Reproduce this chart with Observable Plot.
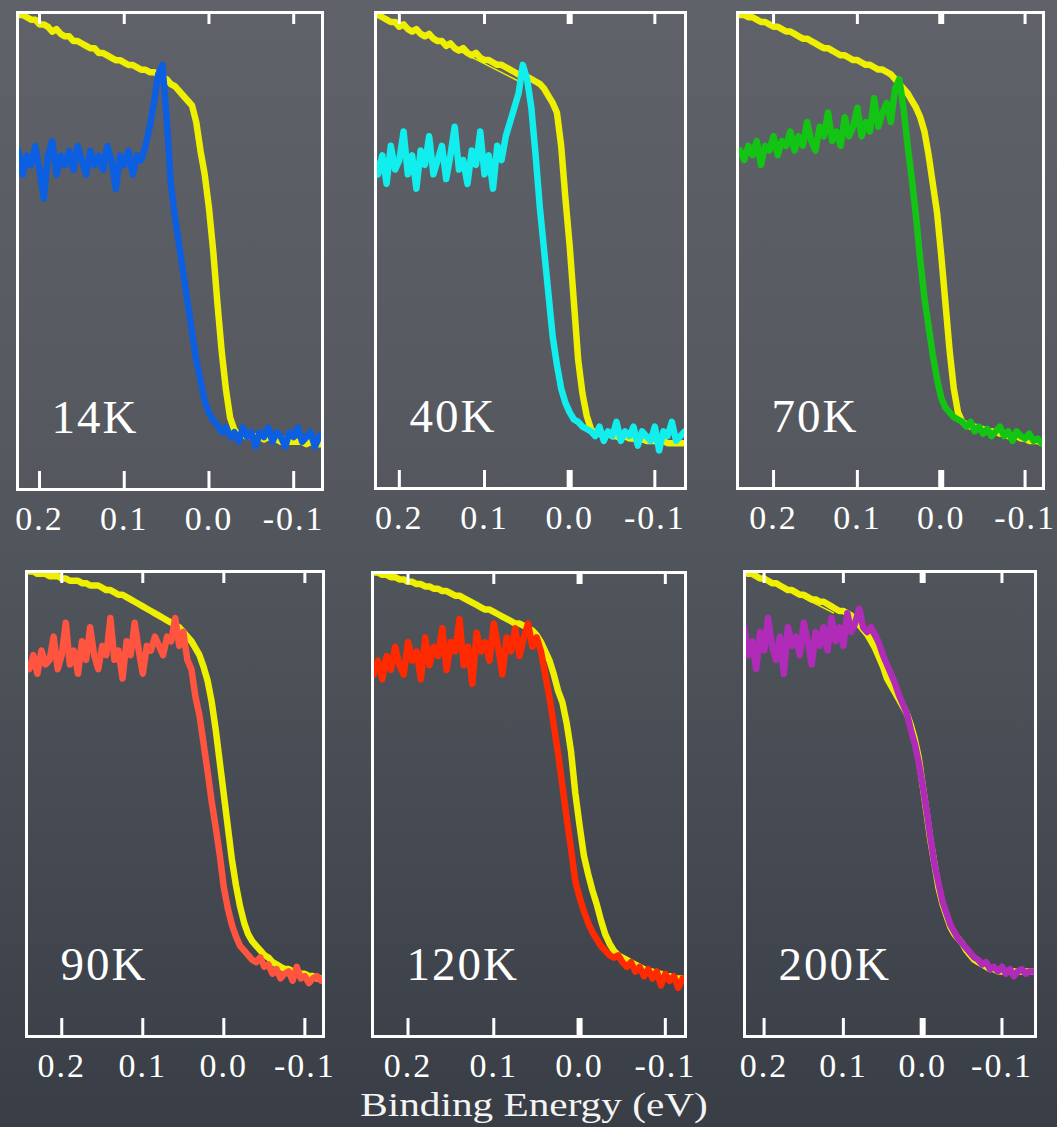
<!DOCTYPE html>
<html>
<head>
<meta charset="utf-8">
<script src="https://cdn.jsdelivr.net/npm/d3@7"></script>
<script src="https://cdn.jsdelivr.net/npm/@observablehq/plot@0.6"></script>
<style>
  html, body { margin: 0; padding: 0; background: #4a4e56; }
  #board {
    position: relative; width: 1057px; height: 1127px; overflow: hidden;
    background: linear-gradient(to bottom, #5f6268 0%, #55595f 40%, #454a52 75%, #383d46 100%);
  }
  .panel { position: absolute; }
  .panel svg { overflow: visible; display: block; max-width: none !important; }
  .panel g[aria-label="x-axis tick label"] text { letter-spacing: 2px; }
  .panel g[aria-label="text"] text { letter-spacing: 2px; }
  #xtitle {
    position: absolute; left: 0; width: 1057px; top: 1089px;
    text-align: center; color: #f4f4f4; font-size: 33px; line-height: 33px;
  }
  #xtitle span { display: inline-block; transform: scaleX(1.25); transform-origin: center; margin-left: 12px; }
</style>
</head>
<body>
<div id="board"><div id="xtitle"><span>Binding Energy (eV)</span></div></div>
<script>
// ---------- DATA ----------
const energy = [
  0.245, 0.24, 0.235, 0.23, 0.225, 0.22, 0.215, 0.21, 0.205, 0.2,
  0.195, 0.19, 0.185, 0.18, 0.175, 0.17, 0.165, 0.16, 0.155, 0.15,
  0.145, 0.14, 0.135, 0.13, 0.125, 0.12, 0.115, 0.11, 0.105, 0.1,
  0.095, 0.09, 0.085, 0.08, 0.075, 0.07, 0.065, 0.06, 0.055, 0.05,
  0.045, 0.04, 0.035, 0.03, 0.025, 0.02, 0.015, 0.01, 0.005, 0,
  -0.005, -0.01, -0.015, -0.02, -0.025, -0.03, -0.035, -0.04, -0.045, -0.05,
  -0.055, -0.06, -0.065, -0.07, -0.075, -0.08, -0.085, -0.09, -0.095, -0.1,
  -0.105, -0.11, -0.115, -0.12, -0.125, -0.13, -0.135, -0.14, -0.145
];

const temperatures = ["14K", "40K", "70K", "90K", "120K", "200K"];

// yellow reference spectra
const ref14 = [
  101, 101, 100.5, 100, 99.5, 99.5, 99, 98.5, 98.5, 97.5,
  97.5, 97, 96, 96.5, 95.5, 95, 95, 94, 94, 93.5,
  93, 92.5, 92.5, 91.5, 91.5, 91, 90.5, 90, 90, 89.5,
  89, 89, 88.5, 88, 88, 87.5, 87.5, 87, 86.5, 86,
  85, 84.5, 83.5, 82.5, 81.5, 80.5, 77, 71, 66, 59,
  50, 39, 29, 21, 15, 12.5, 11.5, 11.5, 11, 11.5,
  11, 11, 10.5, 11, 10.5, 10.5, 10, 10.5, 10, 10,
  10, 10, 9.5, 10, 9.5, 9.5, 9.5, 9.5, 9.5
];
const ref40 = [
  101, 100.5, 100, 99.5, 99.5, 99, 98.5, 98, 98, 97,
  97.5, 96.5, 96, 96.5, 95.5, 95, 95.5, 94.5, 94, 94,
  93, 93.5, 92.5, 92, 92.5, 91.5, 91, 91.5, 90.5, 90,
  90, 89.5, 89, 89, 88.5, 88, 87.5, 87, 86.5, 86.5,
  86, 85.5, 85, 84, 82.5, 81, 79, 72, 61, 51,
  39, 27, 20, 15.3, 12.5, 11.5, 11.5, 11, 11.5, 11,
  11, 10.5, 11, 10.5, 10.5, 10, 10.5, 10, 10, 10,
  9.5, 10, 9.5, 9.5, 9.5, 9.5, 9.5, 9.5, 9.5
];
const ref70 = [
  100, 99.5, 99.5, 99, 99, 98.5, 98, 98, 97.5, 97,
  97, 96.5, 96, 96, 95.5, 95, 94.5, 94.5, 94, 93.5,
  93, 92.5, 92.5, 92, 91.5, 91, 91, 90.5, 90, 90,
  89.5, 89, 89, 88.5, 88, 88, 87.5, 87, 86, 85,
  84, 83, 81.5, 80, 78, 75, 70, 64, 58, 49,
  39, 29, 21, 16, 14, 13.5, 13, 13, 12.5, 12.5,
  12, 12, 12, 11.5, 11.5, 11, 11, 11, 10.5, 10.5,
  10, 10, 10, 9.5, 9.5, 9.5, 9.5, 9.5, 9.5
];
const ref90 = [
  100.5, 100, 100, 99.5, 99.5, 99.5, 99, 99, 99, 98.5,
  98.5, 98, 98, 98, 97.5, 97.5, 97, 97, 97, 96.5,
  96, 96, 95.5, 95, 95, 94.5, 94, 93.5, 93, 92.5,
  92, 91.5, 91, 90.5, 90, 89.5, 89, 88.5, 88, 87,
  86, 85, 83.5, 82, 79.5, 76.5, 72, 66, 59, 52,
  45, 38, 32.5, 28, 24.5, 22, 20.5, 19.5, 18.5, 17.5,
  17, 16, 15.5, 15, 14.5, 14.5, 14, 14, 13.5, 13.5,
  13, 13, 12.5, 12.5, 12.5, 12.5, 12, 12, 12
];
const ref120 = [
  100.5, 100, 100, 99.5, 99.5, 99, 99, 98.5, 98.5, 98,
  98, 97.5, 97.5, 97, 97, 96.5, 96.5, 96, 96, 95.5,
  95, 95, 94.5, 94, 93.5, 93, 92.5, 92, 92, 91.5,
  91, 90.5, 90, 89.5, 89, 89, 88.5, 88, 87.5, 86.5,
  85, 83, 81, 78, 74.5, 72, 67.5, 61.5, 52.5, 45.5,
  39, 35, 31.5, 28.5, 25, 22, 20, 18.5, 17.5, 17,
  16.5, 16, 15.5, 15, 14.5, 14, 14, 13.5, 13.5, 13,
  13, 12.5, 12.5, 12.5, 12, 12, 12, 12, 12
];
const ref200 = [
  101, 101, 100.5, 100.5, 100, 99.5, 99.5, 99, 98.5, 98.5,
  98, 97.5, 97.5, 97, 96.5, 96, 96, 95.5, 95, 95,
  94.5, 94, 94, 93.5, 93.5, 93, 92.5, 92, 91.5, 91.5,
  91, 90.5, 89.5, 88.5, 87.5, 86.5, 85, 83.5, 81.5, 79.5,
  77, 75.5, 74, 72.5, 71, 69.5, 67, 64, 60, 54,
  48, 42, 37, 32, 28.5, 26, 23.5, 22, 21, 20,
  18.5, 17.5, 16.5, 16, 15.5, 15, 14.5, 14.5, 14, 14,
  14, 14, 14, 14, 14, 14, 14, 14, 14
];

// coloured spectra at each temperature
const sig14 = [
  69, 70, 67, 69, 71, 66, 70, 68, 72, 67,
  61, 70, 73, 66, 70, 68, 71, 67, 72, 69,
  66, 71, 68, 70, 67, 72, 69, 63, 70, 68,
  71, 66, 70, 69, 72, 76, 81, 87, 89, 78,
  64, 57, 51, 45, 39, 33, 27, 23, 18.5, 16,
  14.5, 13.5, 12, 13, 11, 12, 10, 13, 11, 12,
  9, 12, 11, 13, 10, 12, 11, 9, 12, 11,
  13, 10, 11, 12, 9, 11, 12, 10, 11
];
const sig40 = [
  67, 68, 65, 69, 66, 70, 64, 72, 67, 69,
  75, 66, 70, 63, 71, 68, 74, 66, 69, 72,
  65, 70, 76, 67, 69, 64, 71, 68, 75, 66,
  70, 63, 72, 69, 74, 77, 80, 83, 89, 86,
  80, 70, 59, 50, 41, 32, 26, 21, 18, 16,
  14.5, 14, 13, 12.5, 12, 11, 13, 10, 12, 11,
  14, 10, 12, 11, 13, 9, 12, 11, 10, 13,
  8, 12, 11, 14, 10, 11, 12, 11, 11
];
const sig70 = [
  70, 71, 69, 72, 70, 73, 68, 72, 71, 74,
  70, 73, 72, 75, 71, 74, 72, 77, 73, 71,
  76, 74, 79, 73, 75, 72, 78, 74, 76, 80,
  74, 77, 75, 82, 76, 79, 81, 77, 84, 86,
  80, 72, 65, 57, 48, 40, 34, 28, 23, 19,
  17, 16, 15, 14.5, 14, 13, 14, 12, 13, 11.5,
  12.5, 11, 12, 13, 11, 12, 10, 12, 11, 10.5,
  11.5, 10, 10.5, 9.5, 10, 9.5, 9.5, 9.5, 9.5
];
const sig90 = [
  80, 79, 82, 78, 83, 80, 81, 86, 79, 82,
  89, 80, 83, 78, 85, 81, 88, 82, 79, 84,
  82, 90, 81, 83, 77, 85, 82, 89, 83, 78,
  84, 83, 86, 84, 82, 86, 85, 90, 84, 87,
  81, 79, 73, 69, 63, 57, 50.5, 45, 39, 32,
  27.5, 24, 21.5, 19.5, 18.5, 17.5, 16.5, 16, 17, 15,
  15.5, 13.5, 14.5, 12.5, 13.5, 14, 12, 15, 12.5, 13,
  11.5, 12.5, 13, 12, 12.5, 12, 12.5, 12, 12
];
const sig120 = [
  79, 78, 81, 77, 82, 79, 84, 80, 78, 85,
  81, 83, 77, 86, 80, 84, 82, 88, 79, 85,
  83, 90, 80, 84, 76, 87, 83, 85, 81, 89,
  84, 78, 86, 83, 88, 82, 86, 89, 84, 86,
  83, 78, 73, 67, 61, 54, 47, 40.5, 33.5, 30,
  27, 24.5, 22.5, 21, 19.5, 18.5, 17.5, 17, 17.5, 16,
  15, 16, 14, 15, 13, 14.5, 12.5, 14, 11, 13.5,
  12, 13, 10.5, 12.5, 12, 11.5, 12, 11.5, 12
];
const sig200 = [
  84, 83, 86, 81, 88, 82, 85, 79, 87, 83,
  90, 84, 81, 86, 78, 88, 84, 86, 82, 89,
  85, 80, 87, 84, 88, 83, 90, 85, 88, 84,
  91, 87, 89, 92, 88, 87, 88, 86.5, 84.5, 82,
  80, 78, 76, 73.5, 71.5, 69.5, 66, 63, 59, 54,
  48.5, 42.5, 37, 33, 29, 26.5, 24, 22.5, 21, 20,
  19, 18, 17, 16.5, 15.5, 16, 14.5, 15, 14, 15,
  13.5, 14.5, 13, 14, 14.5, 13.5, 14, 14, 14
];

// faint lower yellow traces (two end points each)
const thin40E = [0.179, 0.058], thin40I = [96.4, 85.4];
const thin200E = [0.2, 0.1125], thin200I = [98.6, 91.1];

const tickValues = [0.2, 0.1, 0, -0.1];
const tickLabels = ["0.2", "0.1", "0.0", "-0.1"];

// ---------- FONT PICK (first installed serif face) ----------
function installed(name) {
  const ctx = document.createElement("canvas").getContext("2d");
  const s = "Binding Energy (eV) 0.2 0.1 14K mmmwwwiil";
  let differs = false;
  for (const base of ["monospace", "sans-serif"]) {
    ctx.font = "40px " + base;
    const a = ctx.measureText(s).width;
    ctx.font = `40px '${name}', ${base}`;
    const b = ctx.measureText(s).width;
    if (Math.abs(a - b) > 0.5) differs = true; else return false;
  }
  return differs;
}
const serifCandidates = ["Liberation Serif", "Tinos", "Times New Roman", "DejaVu Serif", "Noto Serif",
  "FreeSerif", "Nimbus Roman", "Nimbus Roman No9 L", "TeX Gyre Termes", "Noto Serif CJK SC",
  "Noto Serif CJK JP", "Source Han Serif SC", "Droid Serif", "Georgia", "Bitstream Charter"];
const found = serifCandidates.find(installed);
const serif = (found ? `'${found}', ` : "") + "'Liberation Serif', 'DejaVu Serif', serif";
document.getElementById("board").style.fontFamily = serif;

// ---------- LAYOUT / STYLE ----------
const refColor = "#eef000";
const layout = [
  {ref: ref14,  sig: sig14,  color: "#0b5fe0", left: 17,  right: 322,  top: 12,  bottom: 489,  domain: [0.226, -0.134], zeroThick: false, thin: null},
  {ref: ref40,  sig: sig40,  color: "#12eeee", left: 375, right: 685,  top: 12,  bottom: 488,  domain: [0.228, -0.136], zeroThick: true,  thin: [thin40E, thin40I]},
  {ref: ref70,  sig: sig70,  color: "#14c414", left: 737, right: 1043, top: 12,  bottom: 488,  domain: [0.243, -0.122], zeroThick: true,  thin: null},
  {ref: ref90,  sig: sig90,  color: "#ff5440", left: 26,  right: 323,  top: 571, bottom: 1036, domain: [0.2435, -0.123], zeroThick: false, thin: null},
  {ref: ref120, sig: sig120, color: "#ff2a00", left: 372, right: 685,  top: 572, bottom: 1036, domain: [0.2414, -0.1235], zeroThick: true, thin: null},
  {ref: ref200, sig: sig200, color: "#b02cb8", left: 744, right: 1035, top: 571, bottom: 1036, domain: [0.2247, -0.1423], zeroThick: true, thin: [thin200E, thin200I]}
];

const board = document.getElementById("board");
const mL = 6, mR = 36, mT = 6, mB = 64;

layout.forEach((p, k) => {
  const W = p.right - p.left, H = p.bottom - p.top;
  const refRows = energy.map((E, i) => ({E, I: p.ref[i]}));
  const sigRows = energy.map((E, i) => ({E, I: p.sig[i]}));
  const marks = [
    Plot.line(refRows, {x: "E", y: "I", stroke: refColor, strokeWidth: 6.5, strokeLinejoin: "round", clip: true})
  ];
  if (p.thin) {
    const rows = p.thin[0].map((E, i) => ({E, I: p.thin[1][i]}));
    marks.push(Plot.line(rows, {x: "E", y: "I", stroke: refColor, strokeWidth: 1.5, clip: true}));
  }
  marks.push(
    Plot.line(sigRows, {x: "E", y: "I", stroke: p.color, strokeWidth: 6.5, strokeLinejoin: "round", clip: true}),
    Plot.frame({stroke: "white", strokeWidth: 3}),
    Plot.tickX(tickValues, {x: d => d, stroke: "white", strokeWidth: d => (p.zeroThick && d === 0 ? 6 : 3), insetTop: H - 18}),
    Plot.tickX(tickValues, {x: d => d, stroke: "white", strokeWidth: d => (p.zeroThick && d === 0 ? 6 : 3), insetBottom: H - 12}),
    Plot.axisX(tickValues, {
      tickSize: 0, tickPadding: 16, fontSize: 34, color: "white", label: null,
      tickFormat: d => tickLabels[tickValues.indexOf(d)]
    }),
    Plot.text([temperatures[k]], {
      text: d => d, frameAnchor: "bottom-left", dx: 34, dy: -57,
      textAnchor: "start", lineAnchor: "bottom", fontSize: 47, fill: "white"
    })
  );
  const width = W + mL + mR, height = H + mT + mB;
  const chart = Plot.plot({
    width, height,
    marginLeft: mL, marginRight: mR, marginTop: mT, marginBottom: mB,
    x: {domain: p.domain, label: null},
    y: {domain: [0, 100], axis: null},
    style: {background: "transparent", color: "white", fontFamily: serif, overflow: "visible"},
    marks
  });
  const wrap = document.createElement("div");
  wrap.className = "panel";
  wrap.style.left = (p.left - mL) + "px";
  wrap.style.top = (p.top - mT) + "px";
  wrap.style.width = width + "px";
  wrap.style.height = height + "px";
  wrap.appendChild(chart);
  board.appendChild(wrap);
});
</script>
</body>
</html>
